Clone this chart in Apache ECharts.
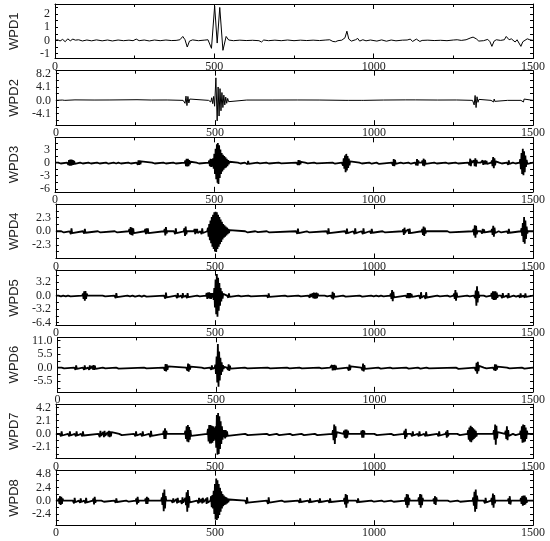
<!DOCTYPE html>
<html>
<head>
<meta charset="utf-8">
<script src="https://cdn.jsdelivr.net/npm/echarts@6/dist/echarts.min.js"></script>
<style>
  html, body { margin: 0; padding: 0; background: #fff; }
  #chart { width: 550px; height: 541px; }
</style>
</head>
<body>
<div id="chart"></div>
<script>
// panel names
const names = ['WPD1', 'WPD2', 'WPD3', 'WPD4', 'WPD5', 'WPD6', 'WPD7', 'WPD8']

// y ranges and tick labels
const yMin = [-1.37, -7.6, -6.7, -4.6, -7.0, -9.85, -3.9, -4.44]
const yMax = [2.76, 9.1, 5.8, 4.6, 5.9, 12.3, 4.74, 5.41]
const yTicks = [
  [-1, 0, 1, 2],
  [-4.1, 0, 4.1, 8.2],
  [-6, -3, 0, 3],
  [-2.3, 0, 2.3],
  [-6.4, -3.2, 0, 3.2],
  [-5.5, 0, 5.5, 11],
  [-2.1, 0, 2.1, 4.2],
  [-2.4, 0, 2.4, 4.8],
]
const yDigits = [0, 1, 0, 1, 1, 1, 1, 1]

// sample index axis
const xMin = 0
const xMax = 1500
const xStep = 500

// signals: [sample, value]
const wpd1 = [
  [0,0],[8,0.05],[16,-0.04],[24,0.08],[32,-0.1],[40,0.12],[48,-0.03],[56,0.1],[64,0.02],[74,0.05],[86,-0.04],[100,0.03],[115,-0.03],[130,0.04],[148,-0.03],[165,0.03],[180,-0.04],[198,0.03],[215,-0.02],[232,0.02],[245,-0.02],[255,0.1],[264,-0.02],[280,0.03],[296,-0.04],[312,0.03],[330,-0.02],[348,0.03],[365,-0.01],[380,0],[392,0.05],[401,0.3],[408,0.05],[415,-0.5],[422,-0.05],[432,0.04],[450,-0.02],[468,0.02],[480,0.05],[486,-0.1],[491,-0.6],[501,2.6],[509,-0.2],[517,2.5],[527,-0.75],[537,0.3],[545,0.03],[560,-0.02],[580,0.02],[600,-0.01],[620,0.01],[640,-0.02],[648,-0.12],[655,0.03],[670,-0.02],[690,0.02],[710,-0.02],[730,0.03],[750,-0.02],[770,0.02],[790,-0.01],[810,0.02],[830,-0.01],[850,0.03],[862,0.05],[872,-0.08],[880,-0.1],[888,-0.02],[900,0.02],[910,0.2],[916,0.7],[922,0.1],[930,-0.05],[936,-0.12],[943,0.05],[950,0.15],[956,-0.05],[960,-0.2],[966,0.05],[970,0.12],[976,-0.03],[990,0.03],[1010,-0.05],[1025,0.04],[1040,-0.06],[1055,0.03],[1070,-0.03],[1090,0.02],[1105,0.03],[1115,0.1],[1122,-0.08],[1128,-0.12],[1134,0.1],[1140,0.02],[1145,-0.08],[1152,0],[1170,0.02],[1190,-0.01],[1210,0.01],[1230,-0.02],[1250,0.03],[1262,0.05],[1275,0],[1290,0.05],[1305,0.2],[1312,0.25],[1322,0.12],[1330,-0.05],[1345,-0.02],[1358,0.08],[1365,-0.1],[1371,-0.45],[1378,-0.05],[1385,0.05],[1398,0],[1410,0.05],[1416,0.3],[1420,0.35],[1425,0.05],[1432,0.12],[1438,0.02],[1444,-0.12],[1450,0.05],[1456,-0.1],[1462,-0.45],[1468,-0.1],[1474,0.05],[1482,0.12],[1490,0.05],[1500,0]
]

const wpd2 = [
  [0,0],[20,0.1],[24,-0.1],[28,0],[60,0.15],[63,-0.15],[66,0],[120,0.1],[123,-0.1],[126,0],[170,0.12],[173,-0.12],[176,0],[255,0.2],[258,-0.2],[261,0],[300,0.1],[303,-0.1],[306,0],[350,0.12],[353,-0.12],[356,0],
  [400,0],[403,0.5],[406,-0.9],[409,1.3],[412,-1.6],[415,1.2],[418,-0.8],[421,0.4],[424,0],
  [480,0],[484,0.3],[487,-0.5],[490,0.8],[493,-1.0],[496,1.2],[499,-1.8],[503,6.9],[507,-6.3],[510,4.1],[513,-4.8],[516,3.6],[519,-3.2],[522,2.4],[525,-2.2],[528,1.6],[531,-1.4],[534,1.0],[537,-0.9],[540,0.6],[543,-0.4],[546,0.2],[549,0],
  [600,0.1],[603,-0.1],[606,0],[680,0.1],[683,-0.1],[686,0],[760,0.12],[763,-0.12],[766,0],[830,0.1],[833,-0.1],[836,0],
  [912,0],[914,0.4],[916,-0.5],[918,0.3],[920,0],[960,0],[962,0.4],[964,-0.5],[966,0.3],[968,0],
  [1030,0.1],[1033,-0.1],[1036,0],[1100,0.15],[1103,-0.15],[1106,0],[1130,0.15],[1133,-0.15],[1136,0],[1200,0.1],[1203,-0.1],[1206,0],[1260,0.12],[1263,-0.12],[1266,0],
  [1310,0],[1312,0.6],[1315,-1.4],[1318,1.5],[1321,-2.2],[1324,1.1],[1327,-0.6],[1330,0.3],[1333,0],
  [1368,0],[1370,0.4],[1372,-0.6],[1374,0.6],[1376,-0.5],[1378,0.4],[1380,-0.3],[1382,0],
  [1420,0],[1422,0.3],[1424,-0.3],[1426,0],
  [1462,0],[1464,0.4],[1466,-0.6],[1468,0.6],[1470,-0.5],[1472,0.4],[1474,0],
  [1500,0]
]

const wpd3 = [
  [0,0],
  [10,0],[12,0.2],[14,-0.3],[16,0.3],[18,-0.2],[20,0],
  [38,0],[40,0.4],[42,-0.5],[44,0.6],[46,-0.7],[48,0.7],[50,-0.7],[52,0.7],[54,-0.6],[56,0.6],[58,-0.5],[60,0.4],[62,-0.3],[64,0],
  [79,0],[81,0.2],[83,-0.3],[85,0.3],[87,-0.2],[89,0],
  [105,0],[107,0.2],[109,-0.3],[111,0.3],[113,-0.2],[115,0],
  [132,0],[134,0.2],[136,-0.3],[138,0.3],[140,-0.2],[142,0],
  [160,0],[162,0.25],[164,-0.4],[166,0.4],[168,-0.25],[170,0],
  [184,0],[186,0.2],[188,-0.35],[190,0.35],[192,-0.2],[194,0],
  [199,0],[201,0.2],[203,-0.3],[205,0.3],[207,-0.2],[209,0],
  [230,0],[232,0.2],[234,-0.3],[236,0.3],[238,-0.2],[240,0],
  [256,0],[258,0.4],[260,-0.5],[262,0.5],[264,-0.5],[266,0.5],[268,-0.4],[270,0.3],[272,0],
  [305,0],[307,0.2],[309,-0.3],[311,0.3],[313,-0.2],[315,0],
  [340,0],[342,0.2],[344,-0.35],[346,0.35],[348,-0.2],[350,0],
  [371,0],[373,0.2],[375,-0.3],[377,0.3],[379,-0.2],[381,0],
  [407,0],[409,0.5],[411,-0.8],[413,0.9],[415,-0.9],[417,0.9],[419,-0.8],[421,0.6],[423,-0.4],[425,0.2],[427,0],
  [444,0],[446,0.2],[448,-0.3],[450,0.3],[452,-0.2],[454,0],
  [482,0],[484,0.5],[486,-0.8],[488,0.9],[490,-1.0],[492,0.8],[494,-0.9],[496,1.0],[498,-1.4],[500,2.0],[502,-2.6],[504,3.2],[506,-3.8],[508,4.2],[510,-4.6],[511,4.5],[513,-4.9],[515,4.0],[517,-3.5],[519,3.0],[521,-2.6],[523,2.2],[525,-2.0],[527,1.8],[529,-1.6],[531,1.5],[533,-1.3],[535,1.2],[537,-1.1],[539,0.9],[541,-0.8],[543,0.6],[545,-0.4],[547,0.2],[549,0],
  [574,0],[576,0.2],[578,-0.3],[580,0.3],[582,-0.2],[584,0],
  [596,0],[598,0.3],[600,-0.4],[602,0.4],[604,-0.4],[606,0.4],[608,-0.3],[610,0],
  [635,0],[637,0.15],[639,-0.25],[641,0.25],[643,-0.15],[645,0],
  [663,0],[665,0.2],[667,-0.3],[669,0.3],[671,-0.2],[673,0],
  [702,0],[704,0.15],[706,-0.25],[708,0.25],[710,-0.15],[712,0],
  [758,0],[760,0.3],[762,-0.5],[764,0.6],[766,-0.6],[768,0.5],[770,-0.4],[772,0.2],[774,0],
  [785,0],[787,0.15],[789,-0.25],[791,0.25],[793,-0.15],[795,0],
  [813,0],[815,0.15],[817,-0.25],[819,0.25],[821,-0.15],[823,0],
  [871,0],[873,0.25],[875,-0.4],[877,0.4],[879,-0.25],[881,0],
  [900,0],[902,0.4],[904,-0.7],[906,1.0],[908,-1.4],[910,1.6],[912,-2.2],[914,2.0],[916,-1.8],[918,1.5],[920,-1.2],[922,0.9],[924,-0.6],[926,0.3],[928,0],
  [955,0],[957,0.2],[959,-0.3],[961,0.3],[963,-0.2],[965,0],
  [986,0],[988,0.25],[990,-0.4],[992,0.4],[994,-0.25],[996,0],
  [1009,0],[1011,0.3],[1013,-0.45],[1015,0.45],[1017,-0.3],[1019,0],
  [1057,0],[1059,0.4],[1061,-0.7],[1063,0.8],[1065,-0.8],[1067,0.6],[1069,-0.3],[1071,0],
  [1085,0],[1087,0.15],[1089,-0.25],[1091,0.25],[1093,-0.15],[1095,0],
  [1109,0],[1111,0.25],[1113,-0.4],[1115,0.4],[1117,-0.25],[1119,0],
  [1130,0],[1132,0.4],[1134,-0.6],[1136,0.8],[1138,-0.7],[1140,0.5],[1142,0],
  [1151,0],[1153,0.5],[1155,-0.7],[1157,0.9],[1159,-0.8],[1161,0.6],[1163,-0.3],[1165,0],
  [1190,0],[1192,0.2],[1194,-0.3],[1196,0.3],[1198,-0.2],[1200,0],
  [1226,0],[1228,0.2],[1230,-0.3],[1232,0.3],[1234,-0.2],[1236,0],
  [1257,0],[1259,0.2],[1261,-0.3],[1263,0.3],[1265,-0.2],[1267,0],
  [1297,0],[1299,0.4],[1301,-0.6],[1303,0.9],[1305,-0.8],[1307,0.5],[1309,0],
  [1313,0],[1315,0.5],[1317,-0.8],[1319,1.0],[1321,-0.9],[1323,0.6],[1325,0],
  [1336,0],[1338,0.3],[1340,-0.4],[1342,0.5],[1344,-0.5],[1346,0.4],[1348,-0.4],[1350,0.5],[1352,-0.4],[1354,0.4],[1356,-0.3],[1358,0],
  [1369,0],[1371,0.5],[1373,-0.8],[1375,1.3],[1377,-1.3],[1379,1.0],[1381,-0.6],[1383,0.3],[1385,0],
  [1394,0],[1396,0.2],[1398,-0.3],[1400,0.3],[1402,-0.2],[1404,0],
  [1418,0],[1420,0.3],[1422,-0.5],[1424,0.5],[1426,-0.3],[1428,0],
  [1437,0],[1439,0.2],[1441,-0.3],[1443,0.3],[1445,-0.2],[1447,0],
  [1458,0],[1460,0.8],[1462,-1.5],[1464,2.2],[1466,-2.6],[1468,3.2],[1470,-2.9],[1472,2.6],[1474,-2.2],[1476,1.6],[1478,-1.0],[1480,0.6],[1482,-0.3],[1484,0],
  [1500,0]
]

const wpd4 = [
  [0,0],
  [17,0],[19,0.2],[21,-0.3],[23,0.3],[25,-0.2],[27,0],
  [43,0],[45,0.3],[47,-0.5],[49,0.5],[51,-0.3],[53,0],
  [85,0],[87,0.25],[89,-0.4],[91,0.4],[93,-0.25],[95,0],
  [132,0],[134,0.2],[136,-0.3],[138,0.3],[140,-0.2],[142,0],
  [185,0],[187,0.2],[189,-0.3],[191,0.3],[193,-0.2],[195,0],
  [229,0],[231,0.4],[233,-0.5],[235,0.7],[237,-0.6],[239,0.6],[241,-0.7],[243,0.5],[245,-0.3],[247,0],
  [279,0],[281,0.4],[283,-0.5],[285,0.5],[287,-0.4],[289,0.5],[291,-0.3],[293,0],
  [340,0],[342,0.4],[344,-0.7],[346,0.7],[348,-0.4],[350,0],
  [371,0],[373,0.3],[375,-0.5],[377,0.5],[379,-0.3],[381,0],
  [402,0],[404,0.5],[406,-0.8],[408,0.8],[410,-0.5],[412,0],
  [434,0],[436,0.4],[438,-0.5],[440,0.4],[442,-0.3],[444,0.4],[446,-0.3],[448,0],
  [454,0],[456,0.3],[458,-0.5],[460,0.5],[462,-0.3],[464,0],
  [476,0],[478,0.6],[480,-0.9],[482,1.2],[484,-1.5],[486,1.8],[488,-2.0],[490,2.4],[492,-2.6],[494,2.8],[496,-3.0],[498,3.2],[500,-3.4],[502,3.3],[504,-3.5],[506,3.2],[508,-3.0],[510,2.8],[512,-2.6],[514,2.4],[516,-2.2],[518,2.0],[520,-1.8],[522,1.6],[524,-1.4],[526,1.2],[528,-1.1],[530,1.0],[532,-0.9],[534,0.8],[536,-0.7],[538,0.6],[540,-0.5],[542,0.4],[544,-0.3],[546,0.2],[548,0],
  [595,0],[597,0.2],[599,-0.3],[601,0.3],[603,-0.2],[605,0],
  [627,0],[629,0.15],[631,-0.25],[633,0.25],[635,-0.15],[637,0],
  [663,0],[665,0.2],[667,-0.3],[669,0.3],[671,-0.2],[673,0],
  [755,0],[757,0.3],[759,-0.45],[761,0.45],[763,-0.3],[765,0],
  [789,0],[791,0.2],[793,-0.3],[795,0.3],[797,-0.2],[799,0],
  [851,0],[853,0.3],[855,-0.5],[857,0.5],[859,-0.3],[861,0],
  [909,0],[911,0.3],[913,-0.45],[915,0.45],[917,-0.3],[919,0],
  [935,0],[937,0.3],[939,-0.5],[941,0.5],[943,-0.3],[945,0],
  [961,0],[963,0.3],[965,-0.5],[967,0.5],[969,-0.3],[971,0],
  [987,0],[989,0.25],[991,-0.4],[993,0.4],[995,-0.25],[997,0],
  [1027,0],[1029,0.2],[1031,-0.3],[1033,0.3],[1035,-0.2],[1037,0],
  [1090,0],[1092,0.35],[1094,-0.6],[1096,0.6],[1098,-0.35],[1100,0],
  [1106,0],[1108,0.3],[1110,-0.45],[1112,0.45],[1114,-0.3],[1116,0],
  [1150,0],[1152,0.4],[1154,-0.6],[1156,0.8],[1158,-0.8],[1160,0.6],[1162,-0.4],[1164,0],
  [1231,0],[1233,0.2],[1235,-0.3],[1237,0.3],[1239,-0.2],[1241,0],
  [1311,0],[1313,0.4],[1315,-0.7],[1317,1.0],[1319,-1.1],[1321,0.9],[1323,-0.5],[1325,0],
  [1336,0],[1338,0.3],[1340,-0.4],[1342,0.4],[1344,-0.3],[1346,0.3],[1348,-0.2],[1350,0],
  [1369,0],[1371,0.4],[1373,-0.6],[1375,0.9],[1377,-0.9],[1379,0.6],[1381,-0.3],[1383,0],
  [1392,0],[1394,0.2],[1396,-0.3],[1398,0.3],[1400,-0.2],[1402,0],
  [1418,0],[1420,0.25],[1422,-0.4],[1424,0.4],[1426,-0.25],[1428,0],
  [1462,0],[1464,0.5],[1466,-0.8],[1468,1.4],[1470,-1.8],[1472,2.4],[1474,-2.1],[1476,1.8],[1478,-1.3],[1480,0.8],[1482,-0.4],[1484,0],
  [1500,0]
]

const wpd5 = [
  [0,0],
  [8,0],[10,0.2],[12,-0.3],[14,0.3],[16,-0.2],[18,0],
  [23,0],[25,0.2],[27,-0.3],[29,0.3],[31,-0.2],[33,0],
  [38,0],[40,0.2],[42,-0.3],[44,0.3],[46,-0.2],[48,0],
  [83,0],[85,0.5],[87,-0.8],[89,1.0],[91,-1.2],[93,1.1],[95,-0.8],[97,0.5],[99,0],
  [147,0],[149,0.2],[151,-0.3],[153,0.3],[155,-0.2],[157,0],
  [184,0],[186,0.35],[188,-0.6],[190,0.6],[192,-0.35],[194,0],
  [225,0],[227,0.2],[229,-0.35],[231,0.35],[233,-0.2],[235,0],
  [241,0],[243,0.25],[245,-0.4],[247,0.4],[249,-0.25],[251,0],
  [262,0],[264,0.25],[266,-0.4],[268,0.4],[270,-0.25],[272,0],
  [277,0],[279,0.25],[281,-0.4],[283,0.4],[285,-0.25],[287,0],
  [340,0],[342,0.4],[344,-0.7],[346,0.7],[348,-0.4],[350,0],
  [377,0],[379,0.35],[381,-0.6],[383,0.6],[385,-0.35],[387,0],
  [393,0],[395,0.35],[397,-0.6],[399,0.6],[401,-0.35],[403,0],
  [408,0],[410,0.35],[412,-0.6],[414,0.6],[416,-0.35],[418,0],
  [444,0],[446,0.2],[448,-0.3],[450,0.3],[452,-0.2],[454,0],
  [472,0],[474,0.6],[476,-0.8],[478,0.7],[480,-0.6],[482,0.8],[484,-0.7],[486,0.6],[488,-0.8],[490,0.6],[492,-0.5],[494,0.6],[496,-1.0],[498,1.8],[500,-2.8],[502,3.8],[504,-4.4],[506,5.1],[508,-5.0],[510,4.2],[512,-3.6],[514,3.0],[516,-2.4],[518,1.8],[520,-1.4],[522,1.0],[524,-0.7],[526,0.4],[528,0],
  [538,0],[540,0.3],[542,-0.5],[544,0.5],[546,-0.3],[548,0],
  [574,0],[576,0.2],[578,-0.3],[580,0.3],[582,-0.2],[584,0],
  [605,0],[607,0.2],[609,-0.3],[611,0.3],[613,-0.2],[615,0],
  [663,0],[665,0.3],[667,-0.5],[669,0.5],[671,-0.3],[673,0],
  [720,0],[722,0.2],[724,-0.3],[726,0.3],[728,-0.2],[730,0],
  [762,0],[764,0.2],[766,-0.3],[768,0.3],[770,-0.2],[772,0],
  [794,0],[796,0.4],[798,-0.5],[800,0.4],[802,-0.3],[804,0],
  [805,0],[807,0.5],[809,-0.6],[811,0.7],[813,-0.7],[815,0.6],[817,-0.7],[819,0.7],[821,-0.6],[823,0.5],[825,0],
  [845,0],[847,0.2],[849,-0.3],[851,0.3],[853,-0.2],[855,0],
  [864,0],[866,0.4],[868,-0.6],[870,0.9],[872,-0.9],[874,0.6],[876,-0.3],[878,0],
  [903,0],[905,0.25],[907,-0.4],[909,0.4],[911,-0.25],[913,0],
  [955,0],[957,0.25],[959,-0.4],[961,0.4],[963,-0.25],[965,0],
  [991,0],[993,0.2],[995,-0.3],[997,0.3],[999,-0.2],[1001,0],
  [1007,0],[1009,0.2],[1011,-0.3],[1013,0.3],[1015,-0.2],[1017,0],
  [1022,0],[1024,0.2],[1026,-0.3],[1028,0.3],[1030,-0.2],[1032,0],
  [1051,0],[1053,0.5],[1055,-0.8],[1057,1.3],[1059,-1.3],[1061,0.9],[1063,-0.4],[1065,0],
  [1100,0],[1102,0.4],[1104,-0.5],[1106,0.6],[1108,-0.6],[1110,0.6],[1112,-0.6],[1114,0.6],[1116,-0.5],[1118,0.4],[1120,-0.3],[1122,0],
  [1142,0],[1144,0.45],[1146,-0.8],[1148,0.8],[1150,-0.45],[1152,0],
  [1158,0],[1160,0.45],[1162,-0.8],[1164,0.8],[1166,-0.45],[1168,0],
  [1199,0],[1201,0.2],[1203,-0.3],[1205,0.3],[1207,-0.2],[1209,0],
  [1231,0],[1233,0.25],[1235,-0.4],[1237,0.4],[1239,-0.25],[1241,0],
  [1250,0],[1252,0.5],[1254,-0.8],[1256,1.3],[1258,-1.2],[1260,0.7],[1262,-0.3],[1264,0],
  [1293,0],[1295,0.2],[1297,-0.3],[1299,0.3],[1301,-0.2],[1303,0],
  [1314,0],[1316,0.4],[1318,-0.6],[1320,1.2],[1322,-2.4],[1324,2.2],[1326,-1.6],[1328,1.0],[1330,-0.5],[1332,0],
  [1345,0],[1347,0.25],[1349,-0.4],[1351,0.4],[1353,-0.25],[1355,0],
  [1368,0],[1370,0.6],[1372,-0.8],[1374,1.0],[1376,-1.0],[1378,1.0],[1380,-1.0],[1382,1.0],[1384,-0.9],[1386,0.7],[1388,-0.5],[1390,0],
  [1399,0],[1401,0.35],[1403,-0.6],[1405,0.6],[1407,-0.35],[1409,0],
  [1417,0],[1419,0.35],[1421,-0.6],[1423,0.6],[1425,-0.35],[1427,0],
  [1439,0],[1441,0.25],[1443,-0.4],[1445,0.4],[1447,-0.25],[1449,0],
  [1455,0],[1457,0.3],[1459,-0.5],[1461,0.5],[1463,-0.3],[1465,0],
  [1470,0],[1472,0.3],[1474,-0.5],[1476,0.5],[1478,-0.3],[1480,0],
  [1500,0]
]

const wpd6 = [
  [0,0],
  [13,0],[15,0.35],[17,-0.6],[19,0.6],[21,-0.35],[23,0],
  [53,0],[55,0.5],[57,-0.9],[59,0.9],[61,-0.5],[63,0],
  [80,0],[82,0.5],[84,-0.9],[86,0.9],[88,-0.5],[90,0],
  [96,0],[98,0.5],[100,-0.9],[102,0.9],[104,-0.5],[106,0],
  [108,0],[110,0.6],[112,-0.8],[114,1.0],[116,-0.9],[118,0.8],[120,-0.5],[122,0],
  [143,0],[145,0.35],[147,-0.6],[149,0.6],[151,-0.35],[153,0],
  [185,0],[187,0.4],[189,-0.7],[191,0.7],[193,-0.4],[195,0],
  [273,0],[275,0.35],[277,-0.6],[279,0.6],[281,-0.35],[283,0],
  [335,0],[337,0.8],[339,-1.2],[341,1.4],[343,-1.5],[345,1.3],[347,-0.9],[349,0.5],[351,0],
  [406,0],[408,0.8],[410,-1.2],[412,1.6],[414,-1.7],[416,1.3],[418,-0.8],[420,0.4],[422,0],
  [455,0],[457,0.35],[459,-0.6],[461,0.6],[463,-0.35],[465,0],
  [481,0],[483,0.5],[485,-0.9],[487,0.9],[489,-0.5],[491,0],
  [496,0],[498,1.2],[500,-2.6],[502,4.5],[504,-6.0],[506,9.6],[508,-7.8],[510,6.5],[512,-5.2],[514,4.0],[516,-3.0],[518,2.2],[520,-1.6],[522,1.0],[524,-0.6],[526,0.3],[528,0],
  [534,0],[536,0.6],[538,-0.9],[540,1.3],[542,-1.3],[544,0.8],[546,-0.4],[548,0],
  [591,0],[593,0.35],[595,-0.6],[597,0.6],[599,-0.35],[601,0],
  [663,0],[665,0.35],[667,-0.6],[669,0.6],[671,-0.35],[673,0],
  [724,0],[726,0.3],[728,-0.5],[730,0.5],[732,-0.3],[734,0],
  [763,0],[765,0.35],[767,-0.6],[769,0.6],[771,-0.35],[773,0],
  [825,0],[827,0.35],[829,-0.6],[831,0.6],[833,-0.35],[835,0],
  [860,0],[862,0.6],[864,-0.8],[866,1.0],[868,-1.1],[870,1.0],[872,-1.0],[874,1.1],[876,-1.0],[878,0.8],[880,-0.5],[882,0],
  [915,0],[917,0.7],[919,-1.2],[921,1.2],[923,-1.0],[925,0.5],[927,0],
  [958,0],[960,0.8],[962,-1.1],[964,1.6],[966,-1.5],[968,1.0],[970,-0.5],[972,0],
  [1012,0],[1014,0.4],[1016,-0.7],[1018,0.7],[1020,-0.4],[1022,0],
  [1049,0],[1051,0.35],[1053,-0.6],[1055,0.6],[1057,-0.35],[1059,0],
  [1100,0],[1102,0.4],[1104,-0.7],[1106,0.7],[1108,-0.4],[1110,0],
  [1137,0],[1139,0.4],[1141,-0.6],[1143,0.6],[1145,-0.4],[1147,0],
  [1164,0],[1166,0.3],[1168,-0.5],[1170,0.5],[1172,-0.3],[1174,0],
  [1257,0],[1259,0.5],[1261,-0.8],[1263,0.8],[1265,-0.5],[1267,0],
  [1316,0],[1318,0.8],[1320,-1.4],[1322,2.0],[1324,-2.5],[1326,2.4],[1328,-1.4],[1330,0.7],[1332,0],
  [1345,0],[1347,0.35],[1349,-0.6],[1351,0.6],[1353,-0.35],[1355,0],
  [1374,0],[1376,0.8],[1378,-1.0],[1380,1.3],[1382,-1.3],[1384,1.2],[1386,-0.8],[1388,0.4],[1390,0],
  [1418,0],[1420,0.35],[1422,-0.6],[1424,0.6],[1426,-0.35],[1428,0],
  [1465,0],[1467,0.4],[1469,-0.7],[1471,0.7],[1473,-0.4],[1475,0],
  [1500,0]
]

const wpd7 = [
  [0,0],
  [12,0],[14,0.25],[16,-0.4],[18,0.4],[20,-0.25],[22,0],
  [38,0],[40,0.25],[42,-0.4],[44,0.4],[46,-0.25],[48,0],
  [59,0],[61,0.25],[63,-0.4],[65,0.4],[67,-0.25],[69,0],
  [79,0],[81,0.25],[83,-0.4],[85,0.4],[87,-0.25],[89,0],
  [134,0],[136,0.3],[138,-0.5],[140,0.5],[142,-0.3],[144,0],
  [147,0],[149,0.3],[151,-0.5],[153,0.5],[155,-0.3],[157,0],
  [161,0],[163,0.3],[165,-0.4],[167,0.5],[169,-0.5],[171,0.4],[173,-0.4],[175,0.3],[177,0],
  [199,0],[201,0.2],[203,-0.3],[205,0.3],[207,-0.2],[209,0],
  [246,0],[248,0.25],[250,-0.4],[252,0.4],[254,-0.25],[256,0],
  [267,0],[269,0.25],[271,-0.4],[273,0.4],[275,-0.25],[277,0],
  [293,0],[295,0.3],[297,-0.5],[299,0.5],[301,-0.3],[303,0],
  [337,0],[339,0.5],[341,-0.8],[343,0.9],[345,-0.8],[347,0.5],[349,0],
  [405,0],[407,0.5],[409,-0.8],[411,1.2],[413,-1.2],[415,1.4],[417,-1.3],[419,1.1],[421,-0.9],[423,0.6],[425,-0.3],[427,0],
  [476,0],[478,0.8],[480,-1.2],[482,1.4],[484,-1.5],[486,1.4],[488,-1.5],[490,1.3],[492,-1.4],[494,1.2],[496,-1.1],[498,1.0],[500,-0.9],[502,1.2],[504,-2.2],[506,3.0],[508,-3.3],[510,3.3],[512,-3.2],[514,2.8],[516,-2.4],[518,2.0],[520,-1.6],[522,1.2],[524,-0.9],[526,0.6],[528,-0.5],[530,0.6],[532,-0.7],[534,0.6],[536,-0.5],[538,0.4],[540,-0.3],[542,0],
  [595,0],[597,0.2],[599,-0.3],[601,0.3],[603,-0.2],[605,0],
  [663,0],[665,0.2],[667,-0.3],[669,0.3],[671,-0.2],[673,0],
  [694,0],[696,0.2],[698,-0.3],[700,0.3],[702,-0.2],[704,0],
  [736,0],[738,0.2],[740,-0.3],[742,0.3],[744,-0.2],[746,0],
  [772,0],[774,0.2],[776,-0.3],[778,0.3],[780,-0.2],[782,0],
  [814,0],[816,0.2],[818,-0.3],[820,0.3],[822,-0.2],[824,0],
  [869,0],[871,0.6],[873,-1.0],[875,1.5],[877,-1.6],[879,1.2],[881,-0.6],[883,0.3],[885,0],
  [904,0],[906,0.5],[908,-0.6],[910,0.7],[912,-0.7],[914,0.7],[916,-0.6],[918,0.5],[920,0],
  [959,0],[961,0.5],[963,-0.6],[965,0.6],[967,-0.6],[969,0.5],[971,0],
  [1001,0],[1003,0.2],[1005,-0.3],[1007,0.3],[1009,-0.2],[1011,0],
  [1054,0],[1056,0.2],[1058,-0.3],[1060,0.3],[1062,-0.2],[1064,0],
  [1094,0],[1096,0.5],[1098,-0.8],[1100,0.8],[1102,-0.5],[1104,0],
  [1116,0],[1118,0.25],[1120,-0.4],[1122,0.4],[1124,-0.25],[1126,0],
  [1137,0],[1139,0.25],[1141,-0.4],[1143,0.4],[1145,-0.25],[1147,0],
  [1158,0],[1160,0.25],[1162,-0.4],[1164,0.4],[1166,-0.25],[1168,0],
  [1199,0],[1201,0.25],[1203,-0.4],[1205,0.4],[1207,-0.25],[1209,0],
  [1225,0],[1227,0.35],[1229,-0.6],[1231,0.6],[1233,-0.35],[1235,0],
  [1262,0],[1264,0.2],[1266,-0.3],[1268,0.3],[1270,-0.2],[1272,0],
  [1294,0],[1296,0.6],[1298,-0.9],[1300,1.0],[1302,-1.2],[1304,1.3],[1306,-1.3],[1308,1.1],[1310,-1.0],[1312,0.9],[1314,-0.8],[1316,0.7],[1318,-0.6],[1320,0.5],[1322,-0.4],[1324,0],
  [1375,0],[1377,0.6],[1379,-0.9],[1381,1.5],[1383,-1.7],[1385,1.3],[1387,-0.7],[1389,0.3],[1391,0],
  [1412,0],[1414,0.5],[1416,-0.8],[1418,1.2],[1420,-1.0],[1422,0.6],[1424,-0.3],[1426,0],
  [1437,0],[1439,0.2],[1441,-0.3],[1443,0.3],[1445,-0.2],[1447,0],
  [1459,0],[1461,0.5],[1463,-0.8],[1465,1.2],[1467,-1.4],[1469,1.5],[1471,-1.3],[1473,1.4],[1475,-1.2],[1477,1.0],[1479,-0.8],[1481,0.5],[1483,0],
  [1500,0]
]

const wpd8 = [
  [0,0],
  [7,0],[9,0.4],[11,-0.6],[13,0.8],[15,-0.8],[17,0.7],[19,-0.6],[21,0.4],[23,0],
  [53,0],[55,0.3],[57,-0.5],[59,0.5],[61,-0.3],[63,0],
  [72,0],[74,0.25],[76,-0.4],[78,0.4],[80,-0.25],[82,0],
  [89,0],[91,0.3],[93,-0.5],[95,0.5],[97,-0.3],[99,0],
  [116,0],[118,0.4],[120,-0.7],[122,0.7],[124,-0.4],[126,0],
  [143,0],[145,0.2],[147,-0.3],[149,0.3],[151,-0.2],[153,0],
  [184,0],[186,0.25],[188,-0.4],[190,0.4],[192,-0.25],[194,0],
  [221,0],[223,0.2],[225,-0.3],[227,0.3],[229,-0.2],[231,0],
  [251,0],[253,0.4],[255,-0.7],[257,0.7],[259,-0.4],[261,0],
  [280,0],[282,0.4],[284,-0.6],[286,0.7],[288,-0.6],[290,0.5],[292,0],
  [331,0],[333,0.6],[335,-0.8],[337,1.4],[339,-1.9],[341,2.0],[343,-1.4],[345,0.8],[347,0],
  [363,0],[365,0.25],[367,-0.4],[369,0.4],[371,-0.25],[373,0],
  [377,0],[379,0.3],[381,-0.5],[383,0.5],[385,-0.3],[387,0],
  [392,0],[394,0.35],[396,-0.6],[398,0.6],[400,-0.35],[402,0],
  [405,0],[407,0.5],[409,-0.8],[411,1.5],[413,-2.0],[415,1.9],[417,-1.3],[419,0.8],[421,-0.3],[423,0],
  [444,0],[446,0.3],[448,-0.5],[450,0.5],[452,-0.3],[454,0],
  [456,0],[458,0.3],[460,-0.5],[462,0.5],[464,-0.3],[466,0],
  [470,0],[472,0.35],[474,-0.6],[476,0.6],[478,-0.35],[480,0],
  [486,0],[488,0.8],[490,-1.2],[492,1.0],[494,-1.4],[496,1.8],[498,-2.4],[500,3.0],[502,-3.4],[504,4.0],[506,-3.5],[508,3.7],[510,-3.2],[512,3.0],[514,-2.6],[516,2.3],[518,-2.0],[520,1.7],[522,-1.4],[524,1.2],[526,-1.0],[528,0.9],[530,-0.8],[532,0.7],[534,-0.7],[536,0.6],[538,-0.5],[540,0.4],[542,-0.3],[544,0.2],[546,0],
  [595,0],[597,0.35],[599,-0.6],[601,0.6],[603,-0.35],[605,0],
  [663,0],[665,0.35],[667,-0.6],[669,0.6],[671,-0.35],[673,0],
  [710,0],[712,0.2],[714,-0.3],[716,0.3],[718,-0.2],[720,0],
  [762,0],[764,0.25],[766,-0.4],[768,0.4],[770,-0.25],[772,0],
  [793,0],[795,0.25],[797,-0.4],[799,0.4],[801,-0.25],[803,0],
  [824,0],[826,0.25],[828,-0.4],[830,0.4],[832,-0.25],[834,0],
  [856,0],[858,0.25],[860,-0.4],[862,0.4],[864,-0.25],[866,0],
  [905,0],[907,0.5],[909,-0.7],[911,1.2],[913,-1.3],[915,1.0],[917,-0.5],[919,0],
  [944,0],[946,0.25],[948,-0.4],[950,0.4],[952,-0.25],[954,0],
  [992,0],[994,0.2],[996,-0.3],[998,0.3],[1000,-0.2],[1002,0],
  [1024,0],[1026,0.2],[1028,-0.3],[1030,0.3],[1032,-0.2],[1034,0],
  [1054,0],[1056,0.2],[1058,-0.3],[1060,0.3],[1062,-0.2],[1064,0],
  [1097,0],[1099,0.6],[1101,-0.8],[1103,1.2],[1105,-1.3],[1107,1.1],[1109,-0.8],[1111,0.5],[1113,0],
  [1139,0],[1141,0.6],[1143,-0.8],[1145,1.2],[1147,-1.3],[1149,1.1],[1151,-0.8],[1153,0.5],[1155,0],
  [1186,0],[1188,0.4],[1190,-0.6],[1192,0.8],[1194,-0.8],[1196,0.6],[1198,0],
  [1232,0],[1234,0.2],[1236,-0.3],[1238,0.3],[1240,-0.2],[1242,0],
  [1263,0],[1265,0.2],[1267,-0.3],[1269,0.3],[1271,-0.2],[1273,0],
  [1310,0],[1312,0.6],[1314,-0.9],[1316,1.6],[1318,-2.0],[1320,2.0],[1322,-1.5],[1324,0.9],[1326,0],
  [1345,0],[1347,0.3],[1349,-0.5],[1351,0.5],[1353,-0.3],[1355,0],
  [1368,0],[1370,0.5],[1372,-0.8],[1374,1.3],[1376,-1.3],[1378,1.0],[1380,-0.5],[1382,0],
  [1421,0],[1423,0.4],[1425,-0.6],[1427,0.8],[1429,-0.7],[1431,0],
  [1460,0],[1462,0.5],[1464,-0.6],[1466,0.8],[1468,-0.9],[1470,0.9],[1472,-0.8],[1474,0.9],[1476,-0.7],[1478,0.6],[1480,-0.4],[1482,0],
  [1500,0]
]

const signals = [wpd1, wpd2, wpd3, wpd4, wpd5, wpd6, wpd7, wpd8]

// layout
const panelTop = 4
const panelPitch = 66.67
const panelHeight = 54.5
const gridLeft = 53
const gridRight = 17
const tickFont = { fontFamily: "'Liberation Serif', 'DejaVu Serif', serif", fontSize: 12, color: '#222' }
const frame = { show: true, onZero: false, lineStyle: { color: '#000', width: 1 } }
const tickLine = { color: '#000', width: 1 }

// half-step ticks for the frame
function halfSteps(i) {
  const t = yTicks[i]
  const half = (t[1] - t[0]) / 2
  const out = []
  for (let k = -20; k <= 20; k++) {
    const v = +(t[0] + k * half).toFixed(4)
    if (v > yMin[i] && v < yMax[i]) out.push(v)
  }
  return out
}

const grid = []
const xAxis = []
const yAxis = []
const series = []

names.forEach((name, i) => {
  grid.push({
    left: gridLeft,
    right: gridRight,
    top: panelTop + i * panelPitch,
    height: panelHeight,
  })
  // bottom axis with labels
  xAxis.push({
    type: 'value', gridIndex: i, position: 'bottom',
    min: xMin, max: xMax, interval: xStep,
    axisLine: frame,
    axisTick: { show: true, inside: true, length: 5, lineStyle: tickLine },
    minorTick: { show: true, splitNumber: 2, length: 3, lineStyle: tickLine },
    axisLabel: { ...tickFont, margin: 2, formatter: v => String(v) },
    splitLine: { show: false },
  })
  // top frame
  xAxis.push({
    type: 'value', gridIndex: i, position: 'top',
    min: xMin, max: xMax, interval: xStep,
    axisLine: frame,
    axisTick: { show: true, inside: true, length: 5, lineStyle: tickLine },
    minorTick: { show: true, splitNumber: 2, length: 3, lineStyle: tickLine },
    axisLabel: { show: false },
    splitLine: { show: false },
  })
  // left axis with labels and name
  yAxis.push({
    type: 'value', gridIndex: i, position: 'left',
    min: yMin[i], max: yMax[i],
    name: name,
    nameLocation: 'middle',
    nameGap: 34,
    nameTextStyle: { fontFamily: "'Liberation Sans Narrow', 'Liberation Sans', sans-serif", fontSize: 13, color: '#222' },
    axisLine: frame,
    axisTick: { show: true, inside: true, length: 3, customValues: halfSteps(i), lineStyle: tickLine },
    axisLabel: {
      ...tickFont, margin: 5,
      customValues: yTicks[i],
      formatter: v => Number(v).toFixed(yDigits[i]),
    },
    splitLine: { show: false },
  })
  // right frame with half-step ticks
  yAxis.push({
    type: 'value', gridIndex: i, position: 'right',
    min: yMin[i], max: yMax[i],
    axisLine: frame,
    axisTick: { show: true, inside: true, length: 3, customValues: halfSteps(i), lineStyle: tickLine },
    axisLabel: { show: false },
    splitLine: { show: false },
  })
  series.push({
    type: 'line',
    xAxisIndex: 2 * i,
    yAxisIndex: 2 * i,
    data: signals[i],
    showSymbol: false,
    silent: true,
    lineStyle: { color: '#000', width: i < 2 ? 1 : 1.8 },
  })
})

const chart = echarts.init(document.getElementById('chart'), null, { renderer: 'canvas' })
chart.setOption({
  animation: false,
  backgroundColor: '#fff',
  grid,
  xAxis,
  yAxis,
  series,
})
</script>
</body>
</html>
